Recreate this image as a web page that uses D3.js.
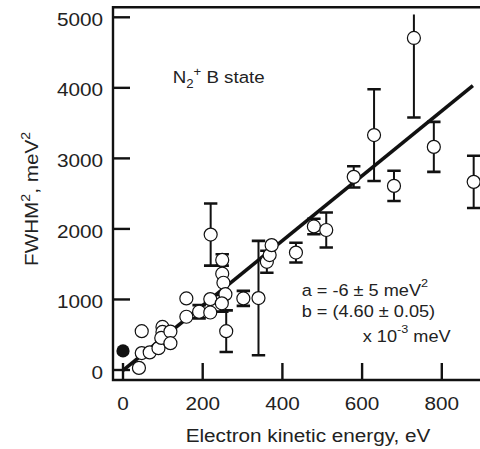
<!DOCTYPE html>
<html><head><meta charset="utf-8">
<script src="https://cdn.jsdelivr.net/npm/d3@7"></script>
<style>body{margin:0;background:#fff}svg{display:block}</style>
</head><body><svg id="c" width="480" height="449"></svg>
<script>
// ---- data ----
const energy   = [40, 47, 47, 67, 89, 99, 99, 96, 119, 119, 159, 159, 191, 219, 219, 220, 249, 249, 252, 257, 248, 259, 302, 340, 361, 368, 373, 434, 479, 510, 579, 630, 680, 730, 780, 880];
const fwhm2    = [30, 550, 240, 250, 310, 610, 540, 455, 545, 380, 1015, 755, 826, 1005, 815, 1920, 1560, 1365, 1237, 1075, 945, 550, 1015, 1020, 1534, 1629, 1770, 1665, 2035, 1985, 2738, 3330, 2610, 4707, 3163, 2667];
const fwhm2Err = [0, 0, 0, 0, 0, 0, 0, 0, 0, 0, 0, 0, 94, 0, 0, 440, 80, 0, 0, 0, 118, 295, 106, 810, 156, 0, 0, 140, 110, 248, 150, 650, 215, 1128, 354, 370];
const filledEnergy = [0];
const filledFwhm2  = [270];
const xTicks = [0, 200, 400, 600, 800];
const yTicks = [0, 1000, 2000, 3000, 4000, 5000];
const fitA = -6, fitB = 4.60, fitMaxE = 878;
const yClipMax = 5040;

// ---- layout ----
const svg = d3.select("#c");
const x = d3.scaleLinear().domain([0, 800]).range([123, 441.8]);
const y = d3.scaleLinear().domain([0, 5000]).range([370, 17.3]);
const L = 113, T = 7.3, B = 380, R = 490;
const FONT = "'Liberation Sans', Arial, Helvetica, sans-serif";

// fit line
svg.append("line")
  .attr("x1", x(0)).attr("y1", y(fitA))
  .attr("x2", x(fitMaxE)).attr("y2", y(fitA + fitB * fitMaxE))
  .attr("stroke", "#111").attr("stroke-width", 3.6);

// clip for error bars
svg.append("clipPath").attr("id", "clipE").append("rect")
  .attr("x", L).attr("y", y(yClipMax)).attr("width", R - L).attr("height", B - y(yClipMax));

const pts = energy.map((e, i) => ({e, f: fwhm2[i], s: fwhm2Err[i]}));
const eb = svg.append("g").attr("clip-path", "url(#clipE)").attr("stroke", "#111");
const withErr = pts.filter(d => d.s > 0);
eb.selectAll("line.v").data(withErr).join("line").attr("class", "v")
  .attr("x1", d => x(d.e)).attr("x2", d => x(d.e))
  .attr("y1", d => y(d.f - d.s)).attr("y2", d => y(d.f + d.s))
  .attr("stroke-width", 2);
["lo", "hi"].forEach(k => {
  eb.selectAll("line.c" + k).data(withErr).join("line").attr("class", "c" + k)
    .attr("x1", d => x(d.e) - 6.7).attr("x2", d => x(d.e) + 6.7)
    .attr("y1", d => y(k === "lo" ? d.f - d.s : d.f + d.s))
    .attr("y2", d => y(k === "lo" ? d.f - d.s : d.f + d.s))
    .attr("stroke-width", 2.6);
});

// open circles
svg.append("g").selectAll("circle").data(pts).join("circle")
  .attr("cx", d => x(d.e)).attr("cy", d => y(d.f)).attr("r", 6.5)
  .attr("fill", "#fff").attr("stroke", "#111").attr("stroke-width", 1.2);
// filled
svg.append("g").selectAll("circle").data(filledEnergy.map((e, i) => ({e, f: filledFwhm2[i]}))).join("circle")
  .attr("cx", d => x(d.e)).attr("cy", d => y(d.f)).attr("r", 6.6).attr("fill", "#111");

// frame
svg.append("path").attr("d", `M${R},${T}H${L}V${B}H${R}`)
  .attr("fill", "none").attr("stroke", "#111").attr("stroke-width", 2.4);

// ticks (inward)
svg.append("g").selectAll("line").data(yTicks).join("line")
  .attr("x1", L).attr("x2", L + 17).attr("y1", d => y(d)).attr("y2", d => y(d))
  .attr("stroke", "#111").attr("stroke-width", 2.4);
svg.append("g").selectAll("line").data(xTicks).join("line")
  .attr("y1", B).attr("y2", B - 17).attr("x1", d => x(d)).attr("x2", d => x(d))
  .attr("stroke", "#111").attr("stroke-width", 2.4);

function txt(px, py, anchor, size, sx, rot) {
  return svg.append("text")
    .attr("transform", `translate(${px},${py})` + (rot ? ` rotate(${rot})` : "") + ` scale(${sx},1)`)
    .attr("text-anchor", anchor).attr("font-family", FONT).attr("font-size", size).attr("fill", "#222");
}
yTicks.forEach(v => txt(103, y(v) + 8.6, "end", 18.5, 1.12).text(v));
xTicks.forEach(v => txt(x(v), 410, "middle", 18.5, 1.12).text(v));

txt(308, 442, "middle", 18.5, 1.12).text("Electron kinetic energy, eV");

const yt = txt(38, 199, "middle", 18.5, 1.12, -90);
yt.append("tspan").text("FWHM");
yt.append("tspan").attr("font-size", 12.5).attr("dy", -8).text("2");
yt.append("tspan").attr("dy", 8).text(", meV");
yt.append("tspan").attr("font-size", 12.5).attr("dy", -8).text("2");

const nl = txt(172.7, 83, "start", 17, 1.1);
nl.append("tspan").text("N");
nl.append("tspan").attr("font-size", 12).attr("dy", 5).text("2");
nl.append("tspan").attr("font-size", 12).attr("dy", -12).text("+");
nl.append("tspan").attr("dy", 7).text(" B state");

const f1 = txt(301.7, 295.5, "start", 16.5, 1.1);
f1.append("tspan").text("a = -6 \u00b1 5 meV");
f1.append("tspan").attr("font-size", 11.5).attr("dy", -9).text("2");
txt(301.7, 317, "start", 16.5, 1.1).text("b = (4.60 \u00b1 0.05)");
const f3 = txt(362.7, 341.5, "start", 16.5, 1.1);
f3.append("tspan").text("x 10");
f3.append("tspan").attr("font-size", 11.5).attr("dy", -9).text("-3");
f3.append("tspan").attr("dy", 9).text(" meV");
</script></body></html>
